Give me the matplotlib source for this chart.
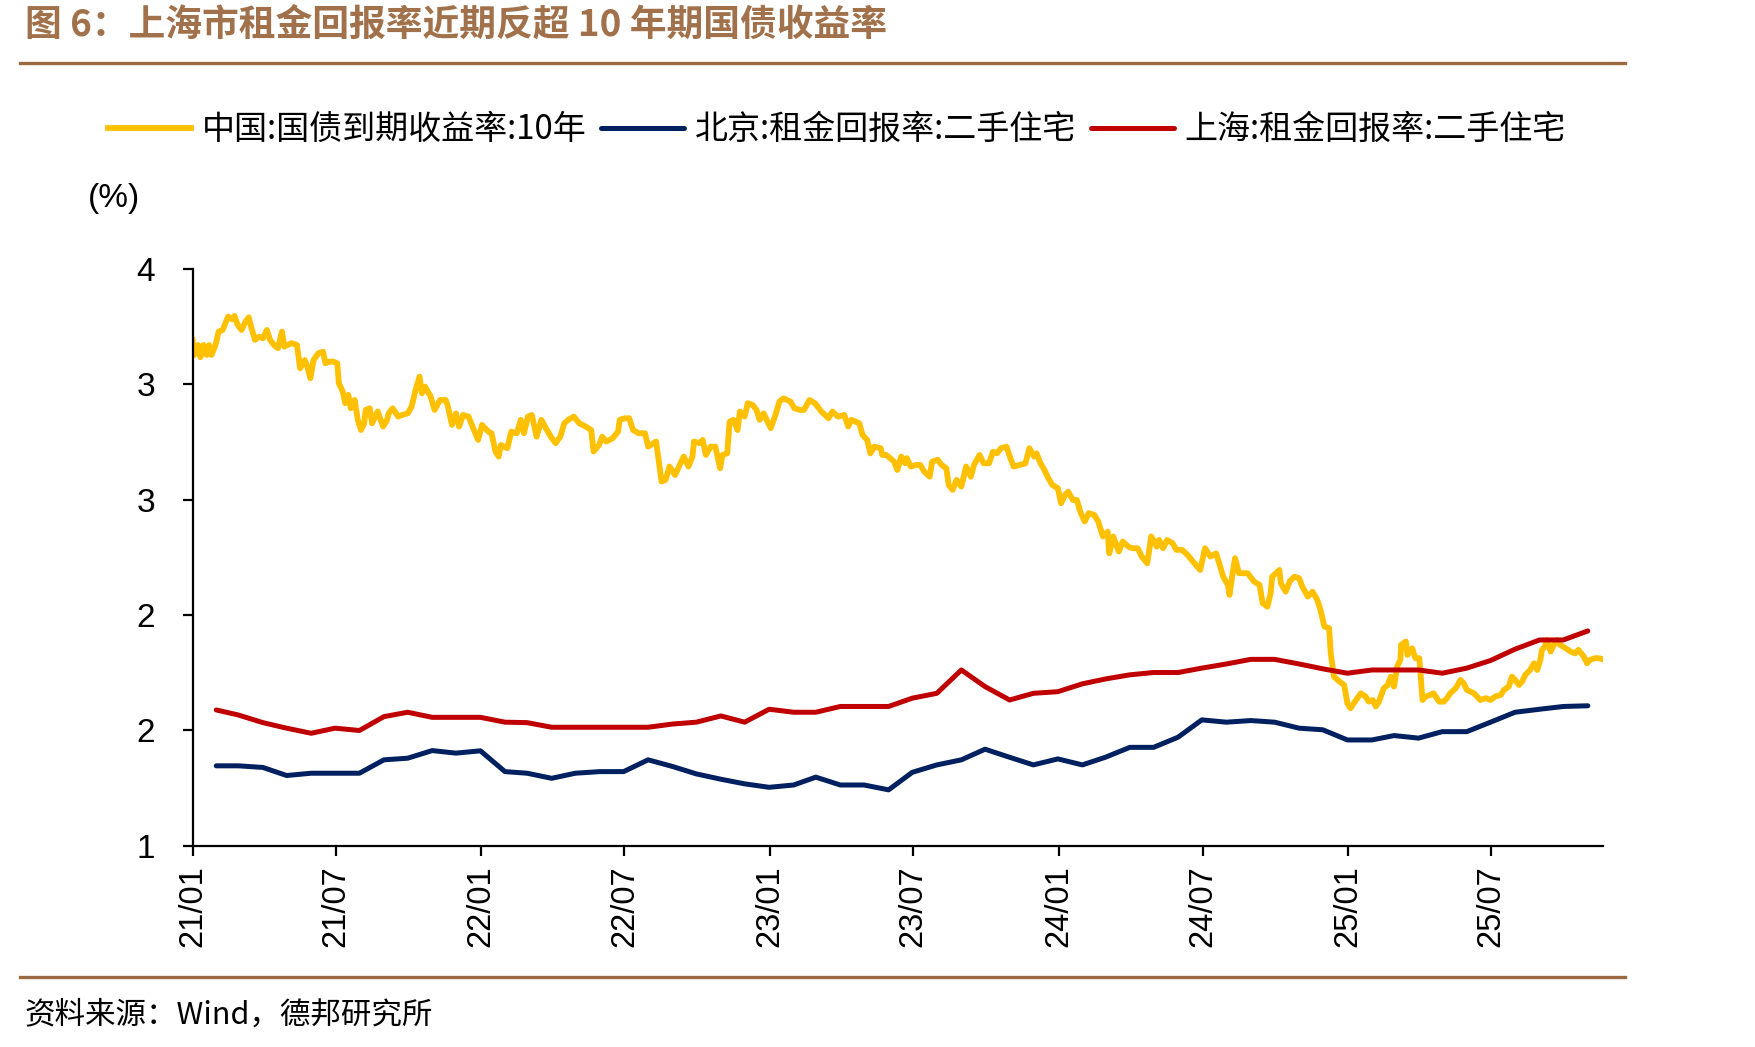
import math
import matplotlib
matplotlib.use("Agg")
import matplotlib.pyplot as plt
import matplotlib.dates as mdates
from matplotlib.ticker import FuncFormatter
import pandas as pd

plt.rcParams['font.family'] = ['Liberation Sans', 'Noto Sans CJK SC']
CJK = ['Noto Sans CJK SC', 'DejaVu Sans']

# --- data ---
# 10y China government bond yield: days since 2021-01-01, yield (%)
bond_days = [
    0, 2, 7, 10, 14, 18, 21, 24, 29, 33, 38, 45, 50, 53, 57, 62, 67, 71, 74, 79,
    84, 89, 94, 98, 103, 108, 113, 116, 125, 132, 136, 142, 145, 149, 153, 159, 165, 168, 173, 178,
    183, 185, 190, 193, 197, 200, 205, 209, 213, 217, 219, 224, 227, 234, 241, 246, 248, 253, 260, 265,
    272, 277, 282, 287, 290, 294, 301, 306, 313, 320, 323, 328, 333, 337, 342, 349, 354, 361, 366, 374,
    378, 383, 387, 390, 398, 403, 410, 415, 419, 424, 429, 435, 441, 448, 453, 459, 465, 470, 475, 482,
    489, 497, 504, 507, 514, 518, 523, 531, 538, 540, 547, 552, 557, 564, 572, 576, 586, 589, 593, 598,
    603, 610, 615, 621, 627, 632, 634, 641, 645, 649, 655, 661, 667, 670, 676, 679, 684, 689, 692, 698,
    702, 708, 713, 717, 722, 727, 731, 737, 742, 747, 756, 761, 768, 773, 780, 787, 795, 804, 809, 816,
    824, 829, 833, 843, 847, 853, 857, 862, 870, 872, 877, 882, 887, 891, 896, 901, 903, 908, 915, 920,
    925, 932, 935, 942, 947, 953, 956, 961, 966, 972, 978, 984, 988, 995, 1000, 1007, 1012, 1017, 1022, 1029,
    1034, 1038, 1046, 1053, 1058, 1064, 1067, 1072, 1077, 1082, 1087, 1094, 1098, 1103, 1107, 1113, 1118, 1123, 1128, 1133,
    1140, 1145, 1151, 1157, 1159, 1164, 1171, 1176, 1183, 1188, 1195, 1200, 1207, 1212, 1219, 1222, 1227, 1232, 1239, 1244,
    1251, 1258, 1263, 1270, 1274, 1280, 1287, 1294, 1298, 1303, 1309, 1311, 1315, 1318, 1323, 1328, 1334, 1342, 1349, 1353,
    1359, 1363, 1365, 1374, 1376, 1382, 1387, 1393, 1399, 1403, 1410, 1416, 1422, 1426, 1431, 1437, 1439, 1443, 1450, 1456,
    1460, 1464, 1471, 1477, 1483, 1487, 1492, 1496, 1500, 1506, 1511, 1515, 1519, 1523, 1527, 1528, 1534, 1536, 1542, 1546,
    1551, 1555, 1559, 1565, 1569, 1576, 1582, 1586, 1590, 1597, 1603, 1607, 1611, 1620, 1628, 1635, 1641, 1647, 1654, 1658,
    1664, 1668, 1672, 1677, 1681, 1685, 1691, 1696, 1700, 1704, 1706, 1710, 1712, 1717, 1721, 1725, 1729, 1736, 1742, 1748,
    1752, 1759, 1763, 1767, 1773, 1778, 1783,
]
bond_yield = [
    3.191, 3.126, 3.169, 3.116, 3.169, 3.126, 3.169, 3.126, 3.169, 3.227, 3.234, 3.292, 3.280, 3.295, 3.256, 3.234, 3.270, 3.289, 3.249, 3.191,
    3.205, 3.198, 3.234, 3.191, 3.169, 3.155, 3.227, 3.162, 3.177, 3.169, 3.068, 3.104, 3.076, 3.025, 3.104, 3.133, 3.140, 3.090, 3.097, 3.097,
    3.090, 3.003, 2.967, 2.917, 2.953, 2.895, 2.931, 2.845, 2.801, 2.830, 2.888, 2.895, 2.830, 2.881, 2.816, 2.845, 2.873, 2.895, 2.859, 2.866,
    2.873, 2.902, 2.974, 3.032, 2.960, 2.989, 2.946, 2.888, 2.931, 2.931, 2.902, 2.823, 2.873, 2.816, 2.866, 2.859, 2.816, 2.758, 2.823, 2.794,
    2.787, 2.708, 2.686, 2.736, 2.722, 2.794, 2.787, 2.845, 2.787, 2.859, 2.866, 2.772, 2.845, 2.801, 2.772, 2.744, 2.772, 2.830, 2.845, 2.859,
    2.830, 2.816, 2.801, 2.708, 2.736, 2.772, 2.751, 2.765, 2.794, 2.845, 2.852, 2.852, 2.801, 2.787, 2.787, 2.729, 2.751, 2.679, 2.578, 2.585,
    2.643, 2.606, 2.643, 2.686, 2.643, 2.686, 2.751, 2.744, 2.758, 2.693, 2.729, 2.729, 2.635, 2.693, 2.700, 2.837, 2.845, 2.801, 2.881, 2.859,
    2.917, 2.910, 2.888, 2.845, 2.873, 2.837, 2.809, 2.866, 2.924, 2.938, 2.924, 2.895, 2.888, 2.888, 2.931, 2.917, 2.881, 2.852, 2.881, 2.859,
    2.866, 2.816, 2.845, 2.830, 2.780, 2.758, 2.700, 2.729, 2.722, 2.693, 2.693, 2.679, 2.664, 2.628, 2.686, 2.657, 2.679, 2.643, 2.650, 2.650,
    2.621, 2.599, 2.664, 2.672, 2.650, 2.635, 2.563, 2.542, 2.585, 2.556, 2.643, 2.599, 2.650, 2.693, 2.657, 2.657, 2.707, 2.700, 2.722, 2.729,
    2.679, 2.643, 2.650, 2.657, 2.722, 2.686, 2.700, 2.657, 2.628, 2.592, 2.563, 2.549, 2.484, 2.520, 2.534, 2.498, 2.498, 2.441, 2.405, 2.441,
    2.433, 2.405, 2.340, 2.361, 2.267, 2.340, 2.275, 2.318, 2.296, 2.289, 2.289, 2.253, 2.224, 2.340, 2.296, 2.325, 2.289, 2.325, 2.311, 2.282,
    2.282, 2.260, 2.239, 2.210, 2.195, 2.289, 2.253, 2.267, 2.224, 2.166, 2.130, 2.087, 2.181, 2.246, 2.181, 2.181, 2.181, 2.145, 2.130, 2.051,
    2.036, 2.094, 2.166, 2.195, 2.137, 2.101, 2.145, 2.166, 2.159, 2.123, 2.080, 2.101, 2.065, 2.022, 1.950, 1.943, 1.834, 1.733, 1.712, 1.697,
    1.618, 1.596, 1.632, 1.661, 1.647, 1.625, 1.632, 1.604, 1.625, 1.683, 1.697, 1.733, 1.690, 1.777, 1.806, 1.871, 1.885, 1.827, 1.856, 1.813,
    1.813, 1.632, 1.647, 1.654, 1.661, 1.625, 1.625, 1.640, 1.661, 1.683, 1.719, 1.705, 1.676, 1.661, 1.632, 1.640, 1.632, 1.647, 1.654, 1.676,
    1.690, 1.733, 1.719, 1.697, 1.712, 1.741, 1.762, 1.791, 1.762, 1.806, 1.849, 1.864, 1.892, 1.842, 1.871, 1.892, 1.871, 1.856, 1.842, 1.834,
    1.849, 1.820, 1.791, 1.806, 1.813, 1.813, 1.808,
]

# monthly rental yields (%), Jan 2021 - Oct 2025
bj_rent = [
    1.347, 1.347, 1.340, 1.305, 1.315, 1.315, 1.315, 1.373, 1.380, 1.413, 1.402, 1.412,
    1.322, 1.315, 1.293, 1.315, 1.322, 1.322, 1.373, 1.344, 1.312, 1.289, 1.269, 1.254,
    1.264, 1.298, 1.264, 1.264, 1.243, 1.319, 1.351, 1.373, 1.419, 1.384, 1.351, 1.377,
    1.351, 1.384, 1.427, 1.427, 1.471, 1.546, 1.536, 1.543, 1.536, 1.510, 1.503, 1.459,
    1.459, 1.478, 1.467, 1.495, 1.495, 1.536, 1.579, 1.592, 1.604, 1.607,
]
sh_rent = [
    1.589, 1.567, 1.534, 1.510, 1.488, 1.510, 1.500, 1.560, 1.579, 1.557, 1.557, 1.557,
    1.536, 1.534, 1.514, 1.514, 1.514, 1.514, 1.514, 1.528, 1.536, 1.563, 1.536, 1.592,
    1.579, 1.579, 1.604, 1.604, 1.604, 1.640, 1.661, 1.762, 1.690, 1.632, 1.661, 1.668,
    1.702, 1.723, 1.741, 1.751, 1.751, 1.770, 1.788, 1.808, 1.808, 1.788, 1.767, 1.748,
    1.762, 1.762, 1.762, 1.748, 1.770, 1.803, 1.852, 1.892, 1.892, 1.931,
]

labels = ['中国:国债到期收益率:10年', '北京:租金回报率:二手住宅', '上海:租金回报率:二手住宅']
colors = ['#FFC000', '#002060', '#C00000']
title = '图 6：上海市租金回报率近期反超 10 年期国债收益率'
source = '资料来源：Wind，德邦研究所'

start = pd.Timestamp('2021-01-01')
bond_dates = start + pd.to_timedelta(bond_days, unit='D')
month_dates = pd.date_range('2021-01-31', periods=len(sh_rent), freq='ME')

fig = plt.figure(figsize=(17.55, 10.47), dpi=100)
ax = fig.add_axes([0.1097, 0.192, 0.8036, 0.5515])

l1, = ax.plot(bond_dates, bond_yield, color=colors[0], lw=4.2, solid_joinstyle='round')
l2, = ax.plot(month_dates, bj_rent, color=colors[1], lw=3.6, solid_capstyle='round')
l3, = ax.plot(month_dates, sh_rent, color=colors[2], lw=3.6, solid_capstyle='round')

ax.set_ylim(1.0, 3.5)
ax.set_yticks([1.0, 1.5, 2.0, 2.5, 3.0, 3.5])
# Wind-style integer labels (half rounds up)
ax.yaxis.set_major_formatter(FuncFormatter(lambda v, p: str(int(math.floor(v + 0.5 + 1e-9)))))
ax.set_xlim(start, bond_dates[-1])
ax.set_xticks(pd.date_range('2021-01-01', '2025-07-01', freq='6MS'))
ax.xaxis.set_major_formatter(mdates.DateFormatter('%y/%m'))

for s in ['top', 'right']:
    ax.spines[s].set_visible(False)
for s in ['left', 'bottom']:
    ax.spines[s].set_linewidth(1.6)
ax.tick_params(axis='y', length=7, width=1.6, labelsize=24, pad=20)
ax.tick_params(axis='x', length=7, width=1.6, labelsize=23.5, pad=7, labelrotation=90)

fig.legend([l1, l2, l3], labels, loc='center', bbox_to_anchor=(0.477, 0.876), ncol=3,
           frameon=False, handlelength=2.5, handletextpad=0.33, columnspacing=0.45,
           prop={'family': CJK, 'size': 23.8})

fig.text(0.065, 0.81, '(%)', ha='center', va='center', fontsize=24)
fig.text(0.014, 0.976, title, ha='left', va='center', fontsize=26.5, fontweight='bold',
         color='#A0714A', family=CJK)
fig.text(0.014, 0.0306, source, ha='left', va='center', fontsize=22, family=CJK)

brown = '#9C6A40'
fig.add_artist(plt.Line2D([0.0114, 0.926], [0.940, 0.940], transform=fig.transFigure, color=brown, lw=2.4))
fig.add_artist(plt.Line2D([0.0114, 0.926], [0.0669, 0.0669], transform=fig.transFigure, color=brown, lw=2.4))

fig.savefig('out.png', dpi=100)
